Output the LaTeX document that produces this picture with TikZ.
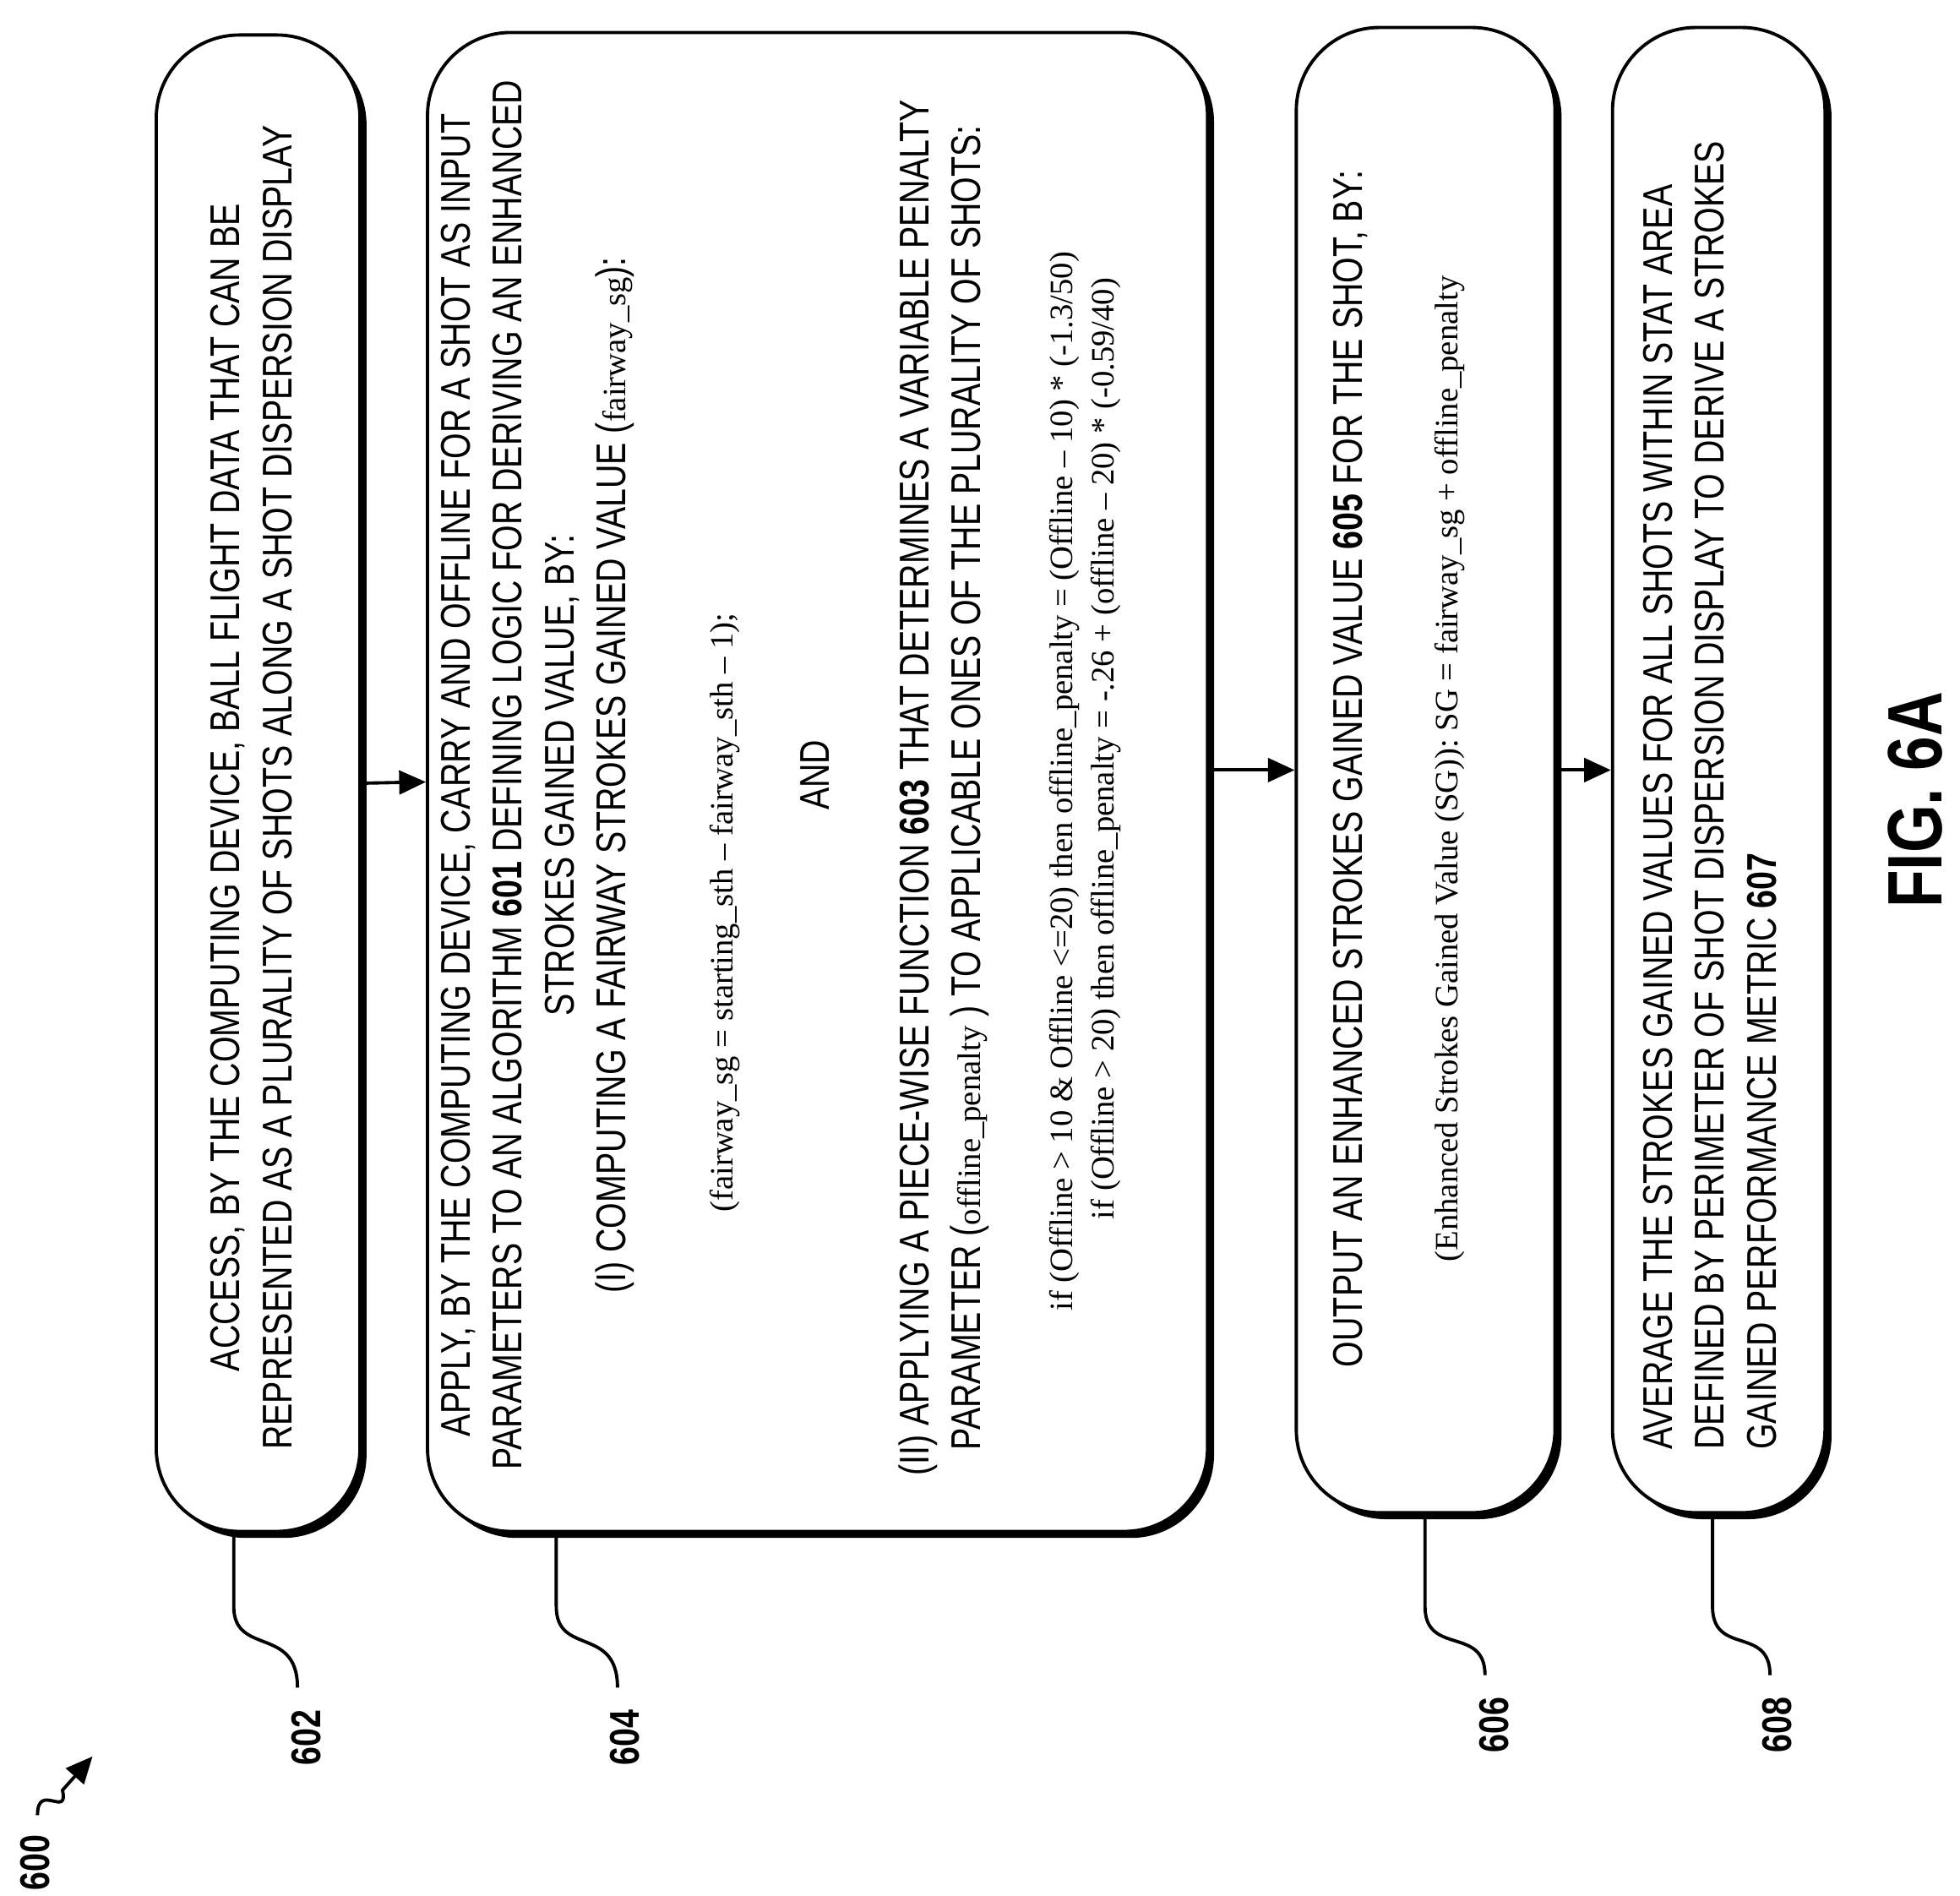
\documentclass[tikz,border=0pt]{standalone}
\usepackage{fontspec}
\setmainfont{Liberation Serif}
\newfontfamily\nar{Liberation Sans}[FakeStretch=0.8]
\usetikzlibrary{shadows,arrows.meta}
\begin{document}
\begin{tikzpicture}[x=0.0148cm,y=-0.0148cm,
  box/.style={draw,line width=1.1pt,rounded corners=28pt,fill=white,
    drop shadow={shadow xshift=2.2pt,shadow yshift=-2.2pt,fill=black,opacity=1}},
  txt/.style={rotate=90,font=\nar\fontsize{14}{17.5}\selectfont,align=center,inner sep=0},
  frm/.style={rotate=90,font=\fontsize{11}{11}\selectfont,inner sep=0},
  lbl/.style={rotate=90,font=\nar\bfseries\fontsize{14}{14}\selectfont,inner sep=0},
  arr/.style={line width=1.1pt,-{Triangle[length=9pt,width=8pt]}},
  lead/.style={line width=1.1pt}]
\useasboundingbox (0,0) rectangle (1568,1516);
% boxes
\node[box,minimum width=163*0.0148cm,minimum height=1197*0.0148cm] (b1) at (206.5,626.5) {};
\node[box,minimum width=624*0.0148cm,minimum height=1199*0.0148cm] (b2) at (654,625.5) {};
\node[box,minimum width=207*0.0148cm,minimum height=1188*0.0148cm] (b3) at (1140.5,616) {};
\node[box,minimum width=170*0.0148cm,minimum height=1188*0.0148cm] (b4) at (1375,616) {};
% box 1 text
\node[txt] (t1) at (201,630) {ACCESS, BY THE COMPUTING DEVICE, BALL FLIGHT DATA THAT CAN BE\\REPRESENTED AS A PLURALITY OF SHOTS ALONG A SHOT DISPERSION DISPLAY};
% box 2 text
\node[txt] (t2a) at (430,620) {APPLY, BY THE COMPUTING DEVICE, CARRY AND OFFLINE FOR A SHOT AS INPUT\\PARAMETERS TO AN ALGORITHM \textbf{601}  DEFINING LOGIC FOR DERIVING AN ENHANCED\\STROKES GAINED VALUE, BY:\\(I) COMPUTING  A FAIRWAY STROKES GAINED VALUE ({\rmfamily\fontsize{11}{11}\selectfont fairway\_sg}):};
\node[frm] (t2b) at (580,730) {(fairway\_sg = starting\_sth – fairway\_sth – 1);};
\node[txt] (t2c) at (652,620) {AND};
\node[txt] (t2d) at (755,630) {(II) APPLYING A  PIECE-WISE FUNCTION \textbf{603} THAT DETERMINES A VARIABLE PENALTY\\PARAMETER ({\rmfamily\fontsize{11}{11}\selectfont offline\_penalty} ) TO APPLICABLE ONES OF THE PLURALITY OF SHOTS:};
\node[frm,align=center,font=\fontsize{11}{14}\selectfont] (t2e) at (868,625) {if (Offline > 10 \& Offline <=20) then offline\_penalty = (Offline – 10) * (-1.3/50)\\\hspace*{2em}if (Offline > 20) then offline\_penalty = -.26 + (offline – 20) * (-0.59/40)};
% box 3 text
\node[txt] (t3a) at (1080,615) {OUTPUT AN ENHANCED STROKES GAINED VALUE \textbf{605}  FOR THE SHOT, BY:};
\node[frm] (t3b) at (1160,615) {(Enhanced Strokes Gained Value (SG)):  SG = fairway\_sg + offline\_penalty};
% box 4 text
\node[txt,align=left,anchor=north west] (t4) at (1314,1160) {AVERAGE THE STROKES GAINED VALUES FOR ALL SHOTS WITHIN STAT AREA\\DEFINED BY PERIMETER OF SHOT DISPERSION DISPLAY TO DERIVE A STROKES\\GAINED PERFORMANCE METRIC \textbf{607}};
% arrows
\draw[arr] (b1.east) -- (b2.west);
\draw[arr] (b2.east |- b3.west) -- (b3.west);
\draw[arr] (b3.east) -- (b4.west);
% leaders and labels
\node[lbl] (l602) at (245,1390) {602};
\node[lbl] (l604) at (500,1390) {604};
\node[lbl] (l606) at (1195,1380) {606};
\node[lbl] (l608) at (1422,1380) {608};
\draw[lead] (b1.south -| 187,0) -- (187,1285) .. controls (187,1325) and (238,1300) .. (238,1350);
\draw[lead] (b2.south -| 445,0) -- (445,1285) .. controls (445,1325) and (494,1300) .. (494,1350);
\draw[lead] (b3.south -| 1140,0) -- (1140,1285) .. controls (1140,1325) and (1188,1300) .. (1188,1340);
\draw[lead] (b4.south -| 1370,0) -- (1370,1285) .. controls (1370,1325) and (1416,1300) .. (1416,1340);
\node[lbl] (l600) at (28,1490) {600};
\coordinate (s600) at (30,1452);
\coordinate (e600) at (74,1405);
\draw[line width=1.1pt,-{Triangle[length=9pt,width=8pt]}] (s600) .. controls (30,1425) and (55,1455) .. (50,1432) -- (e600);
\node[rotate=90,font=\nar\bfseries\fontsize{26}{26}\selectfont,inner sep=0] (fig) at (1532,640) {FIG. 6A};
\end{tikzpicture}
\end{document}
